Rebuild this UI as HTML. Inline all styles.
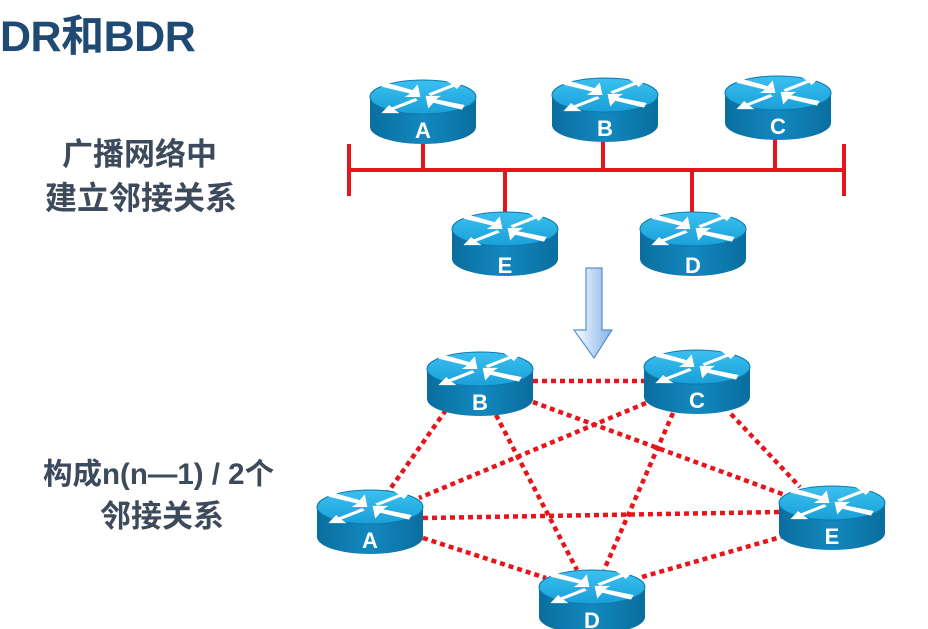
<!DOCTYPE html>
<html><head><meta charset="utf-8"><style>
body{margin:0;width:928px;height:629px;background:#fff;overflow:hidden;position:relative;font-family:"Liberation Sans","Noto Sans CJK SC",sans-serif}
.t{position:absolute;font-weight:bold;white-space:nowrap}
</style></head><body>
<div class="t" style="left:0;top:2px;font-size:43px;color:#1e4a73;letter-spacing:-0.5px">DR和BDR</div>
<div class="t" style="left:62px;top:129px;font-size:31px;color:#3d4a5c">广播网络中</div>
<div class="t" style="left:45px;top:173px;font-size:32px;color:#3d4a5c">建立邻接关系</div>
<div class="t" style="left:43px;top:451px;font-size:29.5px;color:#3d4a5c">构成n(n—1) / 2个</div>
<div class="t" style="left:100px;top:491px;font-size:31px;color:#3d4a5c">邻接关系</div>
<svg width="928" height="629" style="position:absolute;left:0;top:0">
<defs>
<linearGradient id="top" x1="0" y1="0" x2="0" y2="1"><stop offset="0" stop-color="#3cc0f0"/><stop offset="1" stop-color="#1a9fd8"/></linearGradient>
<linearGradient id="body" x1="0" y1="0" x2="1" y2="0"><stop offset="0" stop-color="#0a6e9e"/><stop offset="0.5" stop-color="#1288bf"/><stop offset="1" stop-color="#0a6e9e"/></linearGradient>
<linearGradient id="arr" x1="0" y1="0" x2="1" y2="0"><stop offset="0" stop-color="#ffffff"/><stop offset="1" stop-color="#7fb0ea"/></linearGradient>
<g id="r">
<rect x="-53" y="17" width="106" height="30" fill="url(#body)"/>
<ellipse cx="0" cy="47" rx="53" ry="17" fill="url(#body)"/>
<ellipse cx="0" cy="17" rx="53" ry="17" fill="url(#top)" stroke="#0d78ad" stroke-width="1"/>
<g fill="#fff" transform="translate(0,17) scale(1.3,1.15) translate(0,-17)">
<polygon points="-30,4 -8,11 -4,6 -2,17 -14,17 -10,14 -32,8"/>
<polygon points="30,28 8,22 4,27 2,16 14,16 10,19 32,24"/>
<polygon points="4,14 22,6 18,3 32,3 26,10 24,8 6,16"/>
<polygon points="-4,20 -22,28 -18,31 -32,31 -26,24 -24,26 -6,18"/>
</g>
</g>
</defs>
<g stroke="#e8141b" stroke-width="4" fill="none">
<line x1="348" y1="170" x2="845" y2="170"/>
<line x1="349" y1="144" x2="349" y2="196"/>
<line x1="844" y1="144" x2="844" y2="196"/>
<line x1="423" y1="140" x2="423" y2="170"/>
<line x1="603" y1="138" x2="603" y2="170"/>
<line x1="775" y1="138" x2="775" y2="170"/>
<line x1="505" y1="170" x2="505" y2="220"/>
<line x1="692" y1="170" x2="692" y2="220"/>
</g>
<g font-family="Liberation Sans" font-weight="bold" font-size="22" fill="#fff" text-anchor="middle">
<use href="#r" x="423" y="80"/><text x="423" y="138">A</text>
<use href="#r" x="605" y="78"/><text x="605" y="136">B</text>
<use href="#r" x="778" y="76"/><text x="778" y="134">C</text>
<use href="#r" x="505" y="212"/><text x="505" y="273">E</text>
<use href="#r" x="693" y="212"/><text x="693" y="273">D</text>
</g>
<polygon points="586,268 602,268 602,330 612,330 594,358 574,330 586,330" fill="url(#arr)" stroke="#5a8fd6" stroke-width="1.2"/>
<g stroke="#e8141b" stroke-width="4.5" stroke-dasharray="5 4" fill="none">
<line x1="533" y1="381" x2="645" y2="381"/>
<line x1="446" y1="410" x2="388" y2="492"/>
<line x1="496" y1="415" x2="577" y2="570"/>
<line x1="533" y1="402" x2="785" y2="495"/>
<line x1="646" y1="403" x2="419" y2="498"/>
<line x1="673" y1="413" x2="604" y2="570"/>
<line x1="731" y1="414" x2="800" y2="487"/>
<line x1="423" y1="518" x2="781" y2="512"/>
<line x1="423" y1="538" x2="546" y2="578"/>
<line x1="642" y1="577" x2="781" y2="537"/>
</g>
<g font-family="Liberation Sans" font-weight="bold" font-size="22" fill="#fff" text-anchor="middle">
<use href="#r" x="480" y="352"/><text x="480" y="410">B</text>
<use href="#r" x="697" y="350"/><text x="697" y="408">C</text>
<use href="#r" x="370" y="490"/><text x="370" y="548">A</text>
<use href="#r" x="832" y="486"/><text x="832" y="544">E</text>
<use href="#r" x="592" y="570"/><text x="592" y="628">D</text>
</g>
</svg>
</body></html>
